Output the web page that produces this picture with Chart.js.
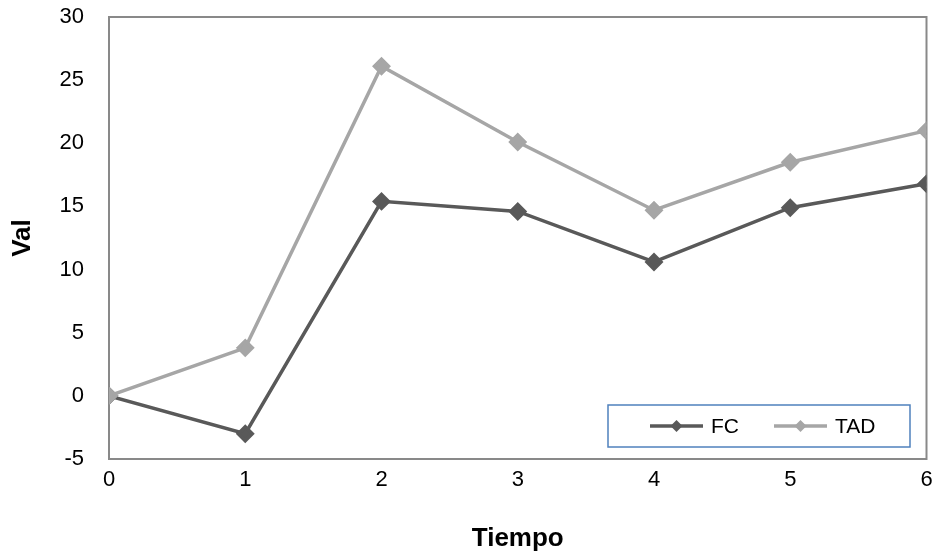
<!DOCTYPE html>
<html>
<head>
<meta charset="utf-8">
<script src="https://cdn.jsdelivr.net/npm/chart.js@4"></script>
<style>
  html, body { margin: 0; padding: 0; background: #fff; }
  #wrap { width: 937px; height: 554px; }
</style>
</head>
<body>
<div id="wrap"><canvas id="chart" width="937" height="554"></canvas></div>
<script>
// data
const tiempo = [0, 1, 2, 3, 4, 5, 6];
const fcValues = [0, -3.0, 15.4, 14.6, 10.6, 14.9, 16.8];
const tadValues = [0, 3.8, 26.1, 20.1, 14.7, 18.5, 21.0];
const yTicks = [-5, 0, 5, 10, 15, 20, 25, 30];

const FONT = "'Liberation Sans', Arial, sans-serif";

// box around the plot area
const frame = {
    id: 'frame',
    beforeDatasetsDraw(chart) {
        const a = chart.chartArea, ctx = chart.ctx;
        ctx.save();
        ctx.strokeStyle = '#898989';
        ctx.lineWidth = 2;
        ctx.strokeRect(a.left, a.top, a.right - a.left, a.bottom - a.top);
        ctx.restore();
    }
};

// legend drawn inside the plot, bottom right
const boxLegend = {
    id: 'boxLegend',
    afterDatasetsDraw(chart) {
        const ctx = chart.ctx;
        const x0 = 608, y0 = 405, w = 302, h = 42;
        ctx.save();
        ctx.fillStyle = '#fff';
        ctx.fillRect(x0, y0, w, h);
        ctx.strokeStyle = '#4f81bd';
        ctx.lineWidth = 1.5;
        ctx.strokeRect(x0, y0, w, h);
        const cy = y0 + h / 2;
        const items = [
            { ds: chart.data.datasets[0], x: 650 },
            { ds: chart.data.datasets[1], x: 774 }
        ];
        items.forEach(it => {
            ctx.strokeStyle = it.ds.borderColor;
            ctx.lineWidth = 3.5;
            ctx.beginPath();
            ctx.moveTo(it.x, cy);
            ctx.lineTo(it.x + 53, cy);
            ctx.stroke();
            const mx = it.x + 26.5, r = 6;
            ctx.fillStyle = it.ds.borderColor;
            ctx.beginPath();
            ctx.moveTo(mx, cy - r);
            ctx.lineTo(mx + r, cy);
            ctx.lineTo(mx, cy + r);
            ctx.lineTo(mx - r, cy);
            ctx.closePath();
            ctx.fill();
            ctx.fillStyle = '#000';
            ctx.font = '21px ' + FONT;
            ctx.textBaseline = 'middle';
            ctx.textAlign = 'left';
            ctx.fillText(it.ds.label, it.x + 61, cy + 1);
        });
        ctx.restore();
    }
};

new Chart(document.getElementById('chart'), {
    type: 'line',
    data: {
        datasets: [
            {
                label: 'FC',
                data: tiempo.map((t, i) => ({ x: t, y: fcValues[i] })),
                borderColor: '#595959',
                backgroundColor: '#595959',
                borderWidth: 3.5,
                pointStyle: 'rectRot',
                pointRadius: 7,
                tension: 0,
                order: 1
            },
            {
                label: 'TAD',
                data: tiempo.map((t, i) => ({ x: t, y: tadValues[i] })),
                borderColor: '#a6a6a6',
                backgroundColor: '#a6a6a6',
                borderWidth: 3.5,
                pointStyle: 'rectRot',
                pointRadius: 7,
                tension: 0,
                order: 0
            }
        ]
    },
    options: {
        responsive: false,
        animation: false,
        layout: { padding: { left: 0, right: 10, top: 17, bottom: 0 } },
        plugins: {
            legend: { display: false },
            tooltip: { enabled: false }
        },
        scales: {
            x: {
                type: 'linear',
                min: 0,
                max: 6,
                grid: { display: false, drawTicks: false },
                border: { display: false },
                ticks: {
                    stepSize: 1,
                    padding: 8,
                    color: '#000',
                    font: { family: FONT, size: 22 }
                },
                title: {
                    display: true,
                    text: 'Tiempo',
                    color: '#000',
                    font: { family: FONT, size: 26, weight: 'bold' },
                    padding: { top: 0, bottom: 0 }
                },
                afterFit(scale) {
                    scale.height = 95;
                    scale.paddingLeft = 0;
                    scale.paddingRight = 0;
                }
            },
            y: {
                min: -5,
                max: 30,
                afterBuildTicks(scale) { scale.ticks = yTicks.map(v => ({ value: v })); },
                grid: { display: false, drawTicks: false },
                border: { display: false },
                ticks: {
                    padding: 25,
                    color: '#000',
                    font: { family: FONT, size: 22 }
                },
                title: {
                    display: true,
                    text: 'Val',
                    color: '#000',
                    font: { family: FONT, size: 26, weight: 'bold' },
                    padding: { top: 7, bottom: 0 }
                },
                afterFit(scale) {
                    scale.width = 109;
                    scale.paddingTop = 0;
                    scale.paddingBottom = 0;
                }
            }
        }
    },
    plugins: [frame, boxLegend]
});
</script>
</body>
</html>
